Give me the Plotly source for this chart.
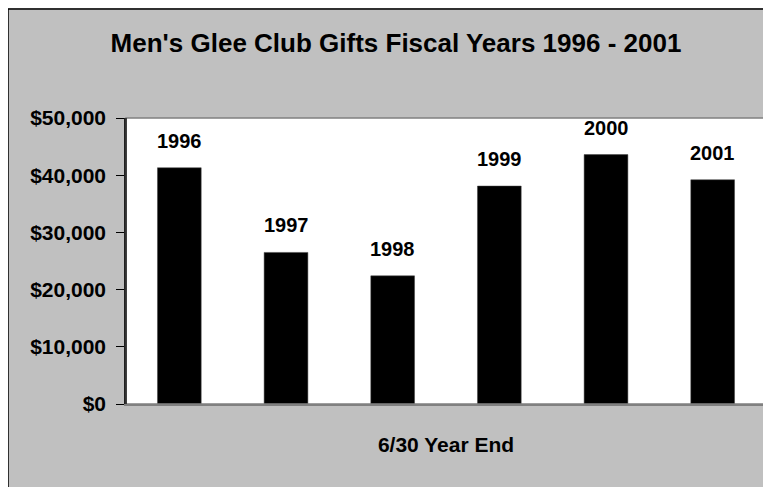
import plotly.graph_objects as go

years = ["1996", "1997", "1998", "1999", "2000", "2001"]
gifts = [41300, 26500, 22400, 38100, 43600, 39200]
y_ticks = [0, 10000, 20000, 30000, 40000, 50000]
y_tick_labels = ["$0", "$10,000", "$20,000", "$30,000", "$40,000", "$50,000"]

FONT = "Liberation Sans, Arial, sans-serif"

W, H = 763, 479          # page body has an 8px margin
L, R, T, B = 118, 5, 110, 83
PW, PH = W - L - R, H - T - B

fig = go.Figure()
fig.add_trace(go.Bar(
    x=years, y=gifts,
    marker=dict(color="#000000", line=dict(color="#404040", width=0.5)),
    hoverinfo="x+y",
))

# category labels above bars (x given as category index)
for i, (yr, v) in enumerate(zip(years, gifts)):
    fig.add_annotation(
        x=i, y=v, text="<b>%s</b>" % yr, showarrow=False,
        yanchor="bottom", yshift=14,
        font=dict(family=FONT, size=20, color="#000000"),
    )

# outer chart frame (left and top edges visible)
fx = (0.0 - L) / PW
fy = (H - B - 1.0) / PH
fig.add_shape(type="line", xref="paper", yref="paper",
              x0=fx, x1=fx, y0=-0.5, y1=fy,
              line=dict(color="#000000", width=1.5))
fig.add_shape(type="line", xref="paper", yref="paper",
              x0=fx, x1=1.2, y0=fy, y1=fy,
              line=dict(color="#000000", width=1.5))
# plot area border
fig.add_shape(type="rect", xref="paper", yref="paper",
              x0=0, x1=1, y0=0, y1=1,
              line=dict(color="#808080", width=1.5), layer="above")
fig.add_shape(type="line", xref="paper", yref="paper",
              x0=0, x1=0, y0=0, y1=1,
              line=dict(color="#202020", width=1.5), layer="above")

fig.update_layout(
    width=W, height=H,
    margin=dict(l=L, r=R, t=T, b=B),
    paper_bgcolor="#C0C0C0",
    plot_bgcolor="#FFFFFF",
    showlegend=False,
    bargap=0.59,
    title=dict(text="<b>Men's Glee Club Gifts Fiscal Years 1996 - 2001</b>",
               x=388 / W, xref="container", xanchor="center",
               y=1 - 35 / H, yref="container", yanchor="middle",
               font=dict(family=FONT, size=26, color="#000000")),
    font=dict(family=FONT, color="#000000"),
)

fig.update_xaxes(
    type="category", categoryorder="array", categoryarray=years,
    range=[-0.5, len(years) - 0.5],
    showticklabels=False, ticks="", showgrid=False,
    showline=True, linecolor="#808080", linewidth=1.5,
    title=dict(text="<b>6/30 Year End</b>", standoff=33,
               font=dict(family=FONT, size=21, color="#000000")),
)
fig.update_yaxes(
    range=[0, 50000], tickvals=y_ticks, ticktext=["<b>%s</b>" % t for t in y_tick_labels],
    ticks="outside", ticklen=8, tickcolor="#000000", tickwidth=1,
    ticklabelstandoff=6,
    showgrid=False, showline=True, linecolor="#202020", linewidth=1.5,
    tickfont=dict(family=FONT, size=21, color="#000000"),
    zeroline=False,
)

fig.write_html("out.html")
